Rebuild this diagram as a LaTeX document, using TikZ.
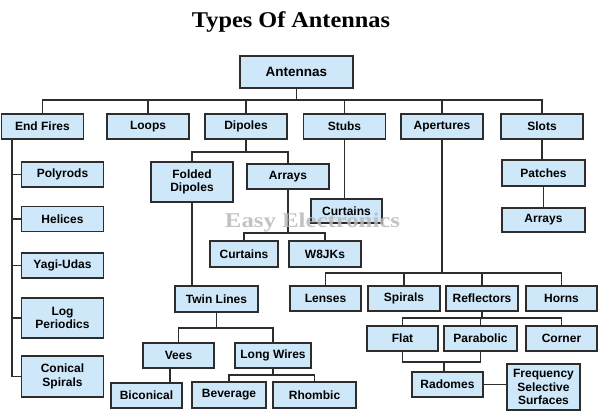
\documentclass[tikz,border=0pt]{standalone}
\usepackage{fontspec}
\setmainfont{Liberation Sans}
\newfontfamily\titlefont[FakeStretch=1.08]{Liberation Serif}
\newfontfamily\markfont[FakeStretch=1.18]{Liberation Serif}
\usetikzlibrary{positioning}
\definecolor{boxblue}{RGB}{206,232,249}
\definecolor{linegray}{RGB}{45,45,45}
\definecolor{markgray}{RGB}{185,185,185}

\begin{document}
\begin{tikzpicture}[
  x=1pt, y=-1pt,
  every node/.style={font=\fontsize{12}{13.5}\selectfont\bfseries},
  box/.style={draw=linegray, fill=boxblue, line width=1.1pt, inner sep=0pt,
    align=center, minimum width=82pt, minimum height=25pt},
  narrow/.style={box, minimum width=71pt},
  link/.style={draw=linegray, line width=1.1pt}
]
\useasboundingbox (0,0) rectangle (600,413);

% Title and root.
\node[font=\titlefont\fontsize{22.5}{23}\selectfont\bfseries, anchor=base]
  (title) at (291,27) {Types Of Antennas};
\node[box, minimum width=113pt, minimum height=32pt,
  font=\fontsize{13.5}{15}\selectfont\bfseries] (antennas) at (296.5,72) {Antennas};

% First level.
\node[box] (endfires) at (42.5,126.5) {End Fires};
\node[box] (loops) at (148,126.5) {Loops};
\node[box] (dipoles) at (246,126.5) {Dipoles};
\node[box] (stubs) at (344.5,126.5) {Stubs};
\node[box] (apertures) at (442,126.5) {Apertures};
\node[box] (slots) at (542,126.5) {Slots};

% End fires column.
\node[box] (polyrods) at (62.5,174.5) {Polyrods};
\node[box] (helices) at (62.5,219) {Helices};
\node[box] (yagi) at (62.5,265.5) {Yagi-Udas};
\node[box, minimum height=40pt] (logper) at (62.5,318) {Log\\Periodics};
\node[box, minimum height=41pt] (conical) at (62.5,376.5) {Conical\\Spirals};

% Dipoles and stubs.
\node[box, minimum height=40pt] (folded) at (192,182) {Folded\\Dipoles};
\node[box] (arraysd) at (288,176.5) {Arrays};
\node[box, minimum width=68pt, minimum height=26pt] (curtainsa) at (244,254) {Curtains};
\node[box, minimum width=72pt, minimum height=26pt] (w8jks) at (325,254) {W8JKs};
\node[narrow, minimum height=24pt] (curtainss) at (346.5,211) {Curtains};
\node[box, minimum width=83pt, minimum height=26pt] (twin) at (216.5,299) {Twin Lines};
\node[narrow] (vees) at (178.5,355.5) {Vees};
\node[box, minimum width=76pt] (longwires) at (273,355.5) {Long Wires};
\node[narrow] (biconical) at (146.5,395.5) {Biconical};
\node[box, minimum width=74pt, minimum height=26pt] (beverage) at (229,395) {Beverage};
\node[box, minimum width=83pt, minimum height=26pt] (rhombic) at (314.5,395) {Rhombic};

% Apertures.
\node[narrow] (lenses) at (325.5,298.5) {Lenses};
\node[narrow, minimum width=72pt] (spirals) at (404,298.5) {Spirals};
\node[narrow, minimum width=72pt] (reflectors) at (482,298.5) {Reflectors};
\node[narrow] (horns) at (561.5,298.5) {Horns};
\node[narrow] (flat) at (402.5,338.5) {Flat};
\node[narrow, minimum width=73pt] (parabolic) at (480.5,338.5) {Parabolic};
\node[narrow] (corner) at (561.5,338.5) {Corner};
\node[narrow] (radomes) at (447.5,384.5) {Radomes};
\node[narrow, minimum width=73pt, minimum height=46pt] (fss) at (543.5,387)
  {Frequency\\Selective\\Surfaces};

% Slots.
\node[box, minimum width=83pt, minimum height=26pt] (patches) at (543.5,173) {Patches};
\node[box, minimum width=83pt, minimum height=24pt] (arrayss) at (543.5,220) {Arrays};

% Connectors.
\coordinate (topbus) at (0,100);
\foreach \n in {endfires,loops,dipoles,stubs,apertures,slots}
  \draw[link] (antennas.south) |- (topbus -| \n.north) -- (\n.north);

\coordinate (efrail) at (12,0);
\draw[link] (endfires.south -| efrail) |- (conical.west);
\foreach \n in {polyrods,helices,yagi,logper}
  \draw[link] (\n.west -| efrail) -- (\n.west);

\coordinate (dipbus) at (0,152);
\foreach \n in {folded,arraysd}
  \draw[link] (dipoles.south) |- (dipbus -| \n.north) -- (\n.north);
\coordinate (arrbus) at (0,233);
\foreach \n in {curtainsa,w8jks}
  \draw[link] (arraysd.south) |- (arrbus -| \n.north) -- (\n.north);
\draw[link] (stubs.south) -- (stubs.south |- curtainss.north);
\draw[link] (folded.south) -- (folded.south |- twin.north);

\coordinate (twinbus) at (0,328);
\foreach \n in {vees,longwires}
  \draw[link] (twin.south) |- (twinbus -| \n.north) -- (\n.north);
\coordinate (vbx) at (170,0);
\draw[link] (vees.south -| vbx) -- (biconical.north -| vbx);
\coordinate (lwbus) at (0,375);
\foreach \n in {beverage,rhombic}
  \draw[link] (longwires.south) |- (lwbus -| \n.north) -- (\n.north);

\coordinate (apbus) at (0,273);
\foreach \n in {lenses,spirals,reflectors,horns}
  \draw[link] (apertures.south) |- (apbus -| \n.north) -- (\n.north);
\coordinate (refbus) at (0,318);
\foreach \n in {flat,parabolic,corner}
  \draw[link] (reflectors.south) |- (refbus -| \n.north) -- (\n.north);
\coordinate (fpbar) at (444,362);
\draw[link] (flat.south) |- (fpbar) -| (parabolic.south);
\draw[link] (fpbar) -- (fpbar |- radomes.north);
\draw[link] (radomes.east) -- (radomes.east -| fss.west);

\draw[link] (slots.south) -- (slots.south |- patches.north);
\draw[link] (patches.south) -- (patches.south |- arrayss.north);

% Watermark.
\node[font=\markfont\fontsize{21}{21}\selectfont\bfseries, text=markgray,
  opacity=0.85, anchor=base] (mark) at (312.5,227) {Easy Electronics};
\end{tikzpicture}
\end{document}
